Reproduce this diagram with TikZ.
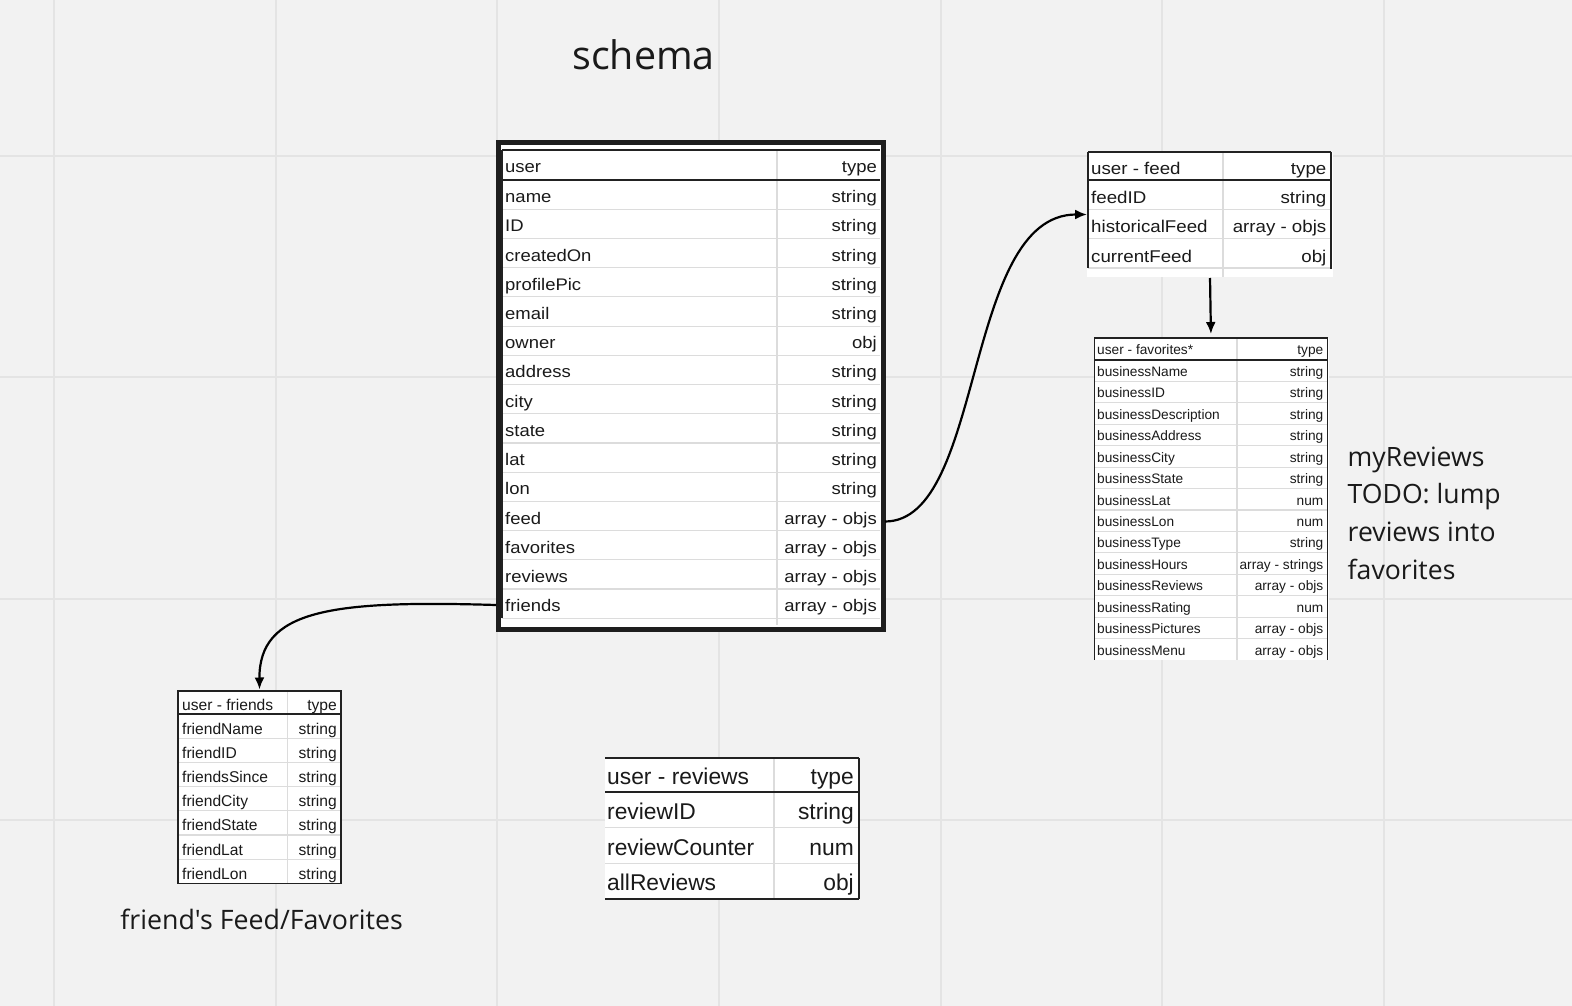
\documentclass[tikz,border=0pt]{standalone}
\usepackage{fontspec}
\newfontfamily\ofont{Open Sans}
\newfontfamily\tabw[FakeStretch=1.1]{Liberation Sans}
\newfontfamily\tabf{Liberation Sans}
\usetikzlibrary{arrows.meta}
\definecolor{bgc}{HTML}{F2F2F2}
\definecolor{gridc}{HTML}{E4E4E4}
\definecolor{framec}{HTML}{1E1E1E}
\definecolor{darkc}{HTML}{222222}
\definecolor{lightc}{HTML}{DCDCDC}
\definecolor{txtc}{HTML}{1A1A1A}
\tikzset{
  gridline/.style={draw=gridc, line width=2pt},
  rowline/.style={draw=lightc, line width=1.2pt},
  dline/.style={draw=darkc, line width=#1},
  dline/.default=1.4pt,
  cellL/.style={anchor=base west, inner sep=0pt, text=txtc},
  cellR/.style={anchor=base east, inner sep=0pt, text=txtc},
  tframe/.style={rectangle, inner sep=0pt, outer sep=0pt, anchor=north west, fill=white},
  conn/.style={draw=black, line width=2.2pt, -{Latex[length=12pt,width=10pt]}},
  fmain/.style={font=\tabw\fontsize{16.8}{20}\selectfont},
  ffeed/.style={font=\tabw\fontsize{17}{20}\selectfont},
  ffav/.style={font=\tabf\fontsize{13.7}{16}\selectfont},
  ffri/.style={font=\tabf\fontsize{15.6}{18}\selectfont},
  frev/.style={font=\tabf\fontsize{22.8}{26}\selectfont},
  label/.style={text=txtc, inner sep=0pt}
}
\begin{document}
\begin{tikzpicture}[x=1pt,y=-1pt]
\useasboundingbox (0,0) rectangle (1572,1006);
\fill[bgc] (0,0) rectangle (1572,1006);
\foreach \k in {0,...,6} \draw[gridline] ({54.2+221.6*\k},0) -- ({54.2+221.6*\k},1006);
\foreach \k in {0,...,3} \draw[gridline] (0,{155.6+221.6*\k}) -- (1572,{155.6+221.6*\k});

% ---------- title ----------
\node[label, anchor=base, font=\ofont\fontsize{39.4}{46}\selectfont] (title) at (643.5,70) {schema};

% ---------- user table ----------
\node[tframe, draw=framec, line width=5pt, minimum width=384.5pt, minimum height=487pt] (user) at (498.5,142.5) {};
\foreach \k in {1,...,15} \draw[rowline] (502,{180+29.22*\k}) -- (880,{180+29.22*\k});
\draw[rowline] (777,150) -- (777,625);
\draw[dline=1.2pt] (502,150) -- (880,150);
\draw[dline=2pt] (502,180) -- (880,180);
\draw[dline=1.2pt] (502,150) -- (502,618.3);
\node[cellL,fmain] (uh) at (505,173) {user};
\node[cellR,fmain] (uht) at (877,173) {type};
\foreach \n/\t [count=\k] in {name/string, ID/string, createdOn/string, profilePic/string, email/string, owner/obj, address/string, city/string, state/string, lat/string, lon/string, feed/array - objs, favorites/array - objs, reviews/array - objs, friends/array - objs} {
  \node[cellL,fmain] (u\k) at (505,{180+29.22*\k-14.61+8}) {\n};
  \node[cellR,fmain] (ut\k) at (877,{180+29.22*\k-14.61+8}) {\t};
}

% ---------- feed table ----------
\node[tframe, minimum width=246pt, minimum height=125pt] (feed) at (1087,152) {};
\foreach \k in {1,2,3} \draw[rowline] (1088,{180+29.3*\k}) -- (1331,{180+29.3*\k});
\draw[rowline] (1223,152) -- (1223,277);
\draw[dline=1.5pt] (1088,152) -- (1331,152);
\draw[dline=2.5pt] (1088,180) -- (1331,180);
\draw[dline=1.5pt] (1088,152) -- (1088,268);
\draw[dline=2pt] (1331,152) -- (1331,269);
\node[cellL,ffeed] (fh) at (1091,175) {user - feed};
\node[cellR,ffeed] (fht) at (1326.5,175) {type};
\foreach \n/\t [count=\k] in {feedID/string, historicalFeed/array - objs, currentFeed/obj} {
  \node[cellL,ffeed] (f\k) at (1091,{180+29.3*\k-14.65+9}) {\n};
  \node[cellR,ffeed] (ft\k) at (1326.5,{180+29.3*\k-14.65+9}) {\t};
}

% ---------- favorites table ----------
\node[tframe, minimum width=235pt, minimum height=322pt] (fav) at (1093.5,338) {};
\foreach \k in {1,...,13} \draw[rowline] (1094,{360+21.43*\k}) -- (1328,{360+21.43*\k});
\draw[rowline] (1237,338) -- (1237,660);
\draw[dline=1.2pt] (1094,338) -- (1328,338);
\draw[dline=1.4pt] (1094,360) -- (1328,360);
\draw[dline=1pt] (1094,338) -- (1094,660);
\draw[dline=1.5pt] (1327.5,338) -- (1327.5,660);
\node[cellL,ffav] (bh) at (1097,354.6) {user - favorites*};
\node[cellR,ffav] (bht) at (1323.5,354.6) {type};
\foreach \n/\t [count=\k] in {businessName/string, businessID/string, businessDescription/string, businessAddress/string, businessCity/string, businessState/string, businessLat/num, businessLon/num, businessType/string, businessHours/array - strings, businessReviews/array - objs, businessRating/num, businessPictures/array - objs, businessMenu/array - objs} {
  \node[cellL,ffav] (b\k) at (1097,{360+21.43*\k-10.715+5.8}) {\n};
  \node[cellR,ffav] (bt\k) at (1323.5,{360+21.43*\k-10.715+5.8}) {\t};
}

% ---------- friends table ----------
\node[tframe, minimum width=163pt, minimum height=192.4pt] (friends) at (178,691) {};
\foreach \k in {1,...,6} \draw[rowline] (178,{714+24.2*\k}) -- (341,{714+24.2*\k});
\draw[rowline] (287.5,691) -- (287.5,883.4);
\draw[dline=1.5pt] (178,714) -- (341,714);
\draw[dline=1.3pt] (178,691) rectangle (341,883.4);
\node[cellL,ffri] (rh) at (182,710.4) {user - friends};
\node[cellR,ffri] (rt) at (337,710.4) {type};
\foreach \n/\t [count=\k] in {friendName/string, friendID/string, friendsSince/string, friendCity/string, friendState/string, friendLat/string, friendLon/string} {
  \node[cellL,ffri] (r\k) at (182,{714+24.2*\k-12.1+8}) {\n};
  \node[cellR,ffri] (rt\k) at (337,{714+24.2*\k-12.1+8}) {\t};
}
\node[label, anchor=base, font=\ofont\fontsize{26.75}{31}\selectfont] (ffnote) at (261.7,929.5) {friend's Feed/Favorites};

% ---------- reviews table ----------
\node[tframe, minimum width=254pt, minimum height=141pt] (reviews) at (605,758) {};
\foreach \k in {1,2} \draw[rowline] (605,{792+35.7*\k}) -- (859,{792+35.7*\k});
\draw[rowline] (774,758) -- (774,899);
\draw[dline=1.5pt] (605,758) -- (859,758);
\draw[dline=2.5pt] (605,792) -- (859,792);
\draw[dline=2pt] (605,899) -- (859,899);
\draw[dline=1.5pt] (859,758) -- (859,899);
\node[cellL,frev] (vh) at (607,784.5) {user - reviews};
\node[cellR,frev] (vht) at (854,784.5) {type};
\foreach \n/\t [count=\k] in {reviewID/string, reviewCounter/num, allReviews/obj} {
  \node[cellL,frev] (v\k) at (607,{792+35.7*\k-17.85+9.5}) {\n};
  \node[cellR,frev] (vt\k) at (854,{792+35.7*\k-17.85+9.5}) {\t};
}

% ---------- note ----------
\node[label, anchor=north west, align=left, font=\ofont\fontsize{26.6}{37.6}\selectfont] (todo) at (1347.5,446) {\rule{0pt}{20pt}myReviews\\TODO: lump\\reviews into\\favorites};

% ---------- connectors ----------
\coordinate (feedout) at (885,521.5);
\coordinate (friendsout) at (496,605);
\draw[conn] (feedout) .. controls (985,521.5) and (963,214.5) .. (feed.west);
\draw[conn, shorten >=4pt, shorten <=1pt] (feed.south) -- (fav.north);
\draw[conn, shorten >=1.5pt] (friendsout) .. controls (330,600) and (259,610) .. (friends.north);
\end{tikzpicture}
\end{document}
